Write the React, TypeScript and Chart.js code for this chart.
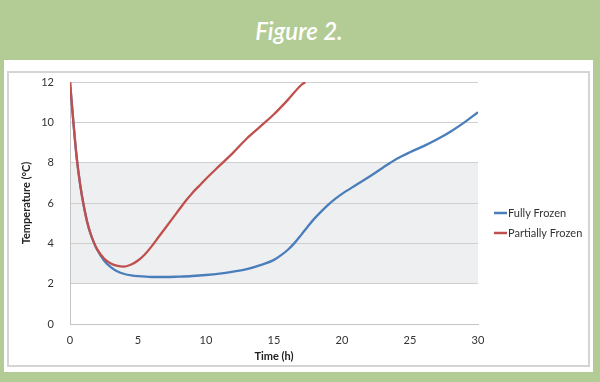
import React, { useEffect, useRef } from "react";
import { Chart, registerables } from "chart.js";

Chart.register(...registerables);

const titleText = "Figure 2.";
const xAxisTitle = "Time (h)";
const yAxisTitle = "Temperature (°C)";
const seriesNames = ["Fully Frozen", "Partially Frozen"];
const seriesColors = ["#4a7ebb", "#c0504d"];

const fullyTimes = [0, 0.25, 0.5, 0.75, 1, 1.25, 1.5, 1.75, 2, 2.5, 3, 3.5, 4, 4.5, 5, 6, 7, 8, 9, 10, 11, 12, 13, 14, 15, 15.5, 16, 16.5, 17, 17.5, 18, 18.5, 19, 19.5, 20, 21, 22, 23, 24, 25, 26, 27, 28, 29, 30];
const fullyTemps = [12, 10.0, 8.2, 6.9, 5.9, 5.1, 4.5, 4.05, 3.68, 3.15, 2.82, 2.6, 2.48, 2.41, 2.37, 2.33, 2.33, 2.35, 2.38, 2.43, 2.5, 2.6, 2.72, 2.92, 3.18, 3.4, 3.67, 4.01, 4.42, 4.85, 5.25, 5.6, 5.92, 6.2, 6.45, 6.88, 7.3, 7.75, 8.18, 8.52, 8.82, 9.16, 9.55, 10.0, 10.5];

const partialTimes = [0, 0.25, 0.5, 0.75, 1, 1.25, 1.5, 1.75, 2, 2.5, 3, 3.5, 4, 4.5, 5, 5.5, 6, 6.5, 7, 7.5, 8, 8.5, 9, 9.5, 10, 11, 12, 13, 14, 15, 16, 17, 17.3];
const partialTemps = [12, 10.0, 8.2, 6.9, 5.9, 5.1, 4.5, 4.05, 3.7, 3.25, 3.0, 2.88, 2.85, 2.95, 3.15, 3.45, 3.85, 4.3, 4.75, 5.2, 5.65, 6.1, 6.5, 6.85, 7.2, 7.85, 8.5, 9.2, 9.8, 10.4, 11.1, 11.85, 12.0];

const xTickMin = 0;
const xTickMax = 30;
const xTickStep = 5;
const yTickMin = 0;
const yTickMax = 12;
const yTickStep = 2;
const bandLow = 2;
const bandHigh = 8;

const FONT = "Lato, 'Open Sans', sans-serif";

export default function App() {
  const canvasRef = useRef<HTMLCanvasElement | null>(null);

  useEffect(() => {
    const canvas = canvasRef.current;
    if (!canvas) return;

    const bandPlugin = {
      id: "band",
      beforeDraw(chart: any) {
        const { ctx, chartArea, scales } = chart;
        const y = scales.y;
        const top = y.getPixelForValue(bandHigh);
        const bottom = y.getPixelForValue(bandLow);
        ctx.save();
        ctx.fillStyle = "#eeeff1";
        ctx.fillRect(chartArea.left, top, chartArea.right - chartArea.left, bottom - top);
        ctx.restore();
      },
    };

    const legendPlugin = {
      id: "customLegend",
      afterDraw(chart: any) {
        const { ctx, chartArea } = chart;
        const x0 = chartArea.right + 16;
        const rows = [chartArea.top + 131, chartArea.top + 151];
        ctx.save();
        chart.data.datasets.forEach((ds: any, i: number) => {
          const yy = rows[i];
          ctx.strokeStyle = ds.borderColor;
          ctx.lineWidth = 2.5;
          ctx.beginPath();
          ctx.moveTo(x0, yy);
          ctx.lineTo(x0 + 13, yy);
          ctx.stroke();
          ctx.fillStyle = "#333333";
          ctx.font = `11px ${FONT}`;
          ctx.textBaseline = "middle";
          ctx.textAlign = "left";
          ctx.fillText(ds.label, x0 + 14, yy + 0.5);
        });
        ctx.restore();
      },
    };

    const chart = new Chart(canvas, {
      type: "line",
      data: {
        datasets: [
          {
            label: seriesNames[0],
            data: fullyTimes.map((t, i) => ({ x: t, y: fullyTemps[i] })),
            borderColor: seriesColors[0],
            backgroundColor: seriesColors[0],
            borderWidth: 2.3,
            pointRadius: 0,
            cubicInterpolationMode: "monotone",
            order: 1,
          },
          {
            label: seriesNames[1],
            data: partialTimes.map((t, i) => ({ x: t, y: partialTemps[i] })),
            borderColor: seriesColors[1],
            backgroundColor: seriesColors[1],
            borderWidth: 2.3,
            pointRadius: 0,
            cubicInterpolationMode: "monotone",
            order: 0,
          },
        ],
      },
      options: {
        animation: false,
        responsive: false,
        maintainAspectRatio: false,
        layout: { padding: { left: 0, right: 110, top: 9, bottom: 0 } },
        plugins: {
          legend: { display: false },
          tooltip: { enabled: false },
          title: { display: false },
        },
        scales: {
          x: {
            type: "linear",
            min: xTickMin,
            max: xTickMax,
            afterFit: (s: any) => {
              s.height = 41;
            },
            ticks: {
              stepSize: xTickStep,
              padding: 10,
              color: "#333333",
              font: { family: FONT, size: 11 },
              maxRotation: 0,
            },
            grid: { display: false, drawTicks: false },
            border: { display: true, color: "#c4c4c4", width: 1 },
            title: {
              display: true,
              text: xAxisTitle,
              color: "#222222",
              font: { family: FONT, size: 11, weight: "bold" },
              padding: { top: 0, bottom: 2 },
            },
          },
          y: {
            type: "linear",
            min: yTickMin,
            max: yTickMax,
            afterFit: (s: any) => {
              s.width = 61;
              s.paddingTop = 6;
              s.paddingBottom = 6;
            },
            ticks: {
              stepSize: yTickStep,
              padding: 16,
              color: "#333333",
              font: { family: FONT, size: 11 },
            },
            grid: { display: true, color: "#cfcfcf", lineWidth: 1, drawTicks: false },
            border: { display: true, color: "#c4c4c4", width: 1 },
            title: {
              display: true,
              text: yAxisTitle,
              color: "#222222",
              font: { family: FONT, size: 11, weight: "bold" },
              padding: { top: 11, bottom: 0 },
            },
          },
        },
      },
      plugins: [bandPlugin, legendPlugin],
    });

    return () => chart.destroy();
  }, []);

  return (
    <div
      style={{
        position: "absolute",
        left: 0,
        top: 0,
        width: 600,
        height: 382,
        background: "#b3cc95",
        overflow: "hidden",
      }}
    >
      <div
        style={{
          position: "absolute",
          left: 0,
          top: 16,
          width: 598,
          textAlign: "center",
          color: "#ffffff",
          fontFamily: FONT,
          fontStyle: "italic",
          fontWeight: 600,
          fontSize: 24,
          lineHeight: "30px",
        }}
      >
        {titleText}
      </div>
      <div
        style={{
          position: "absolute",
          left: 4,
          top: 60,
          width: 589,
          height: 312,
          background: "#ffffff",
        }}
      />
      <div
        style={{
          position: "absolute",
          left: 7,
          top: 71,
          width: 583,
          height: 296,
          boxSizing: "border-box",
          border: "2px solid #d4d4d4",
        }}
      >
        <canvas ref={canvasRef} width={579} height={292} style={{ display: "block", width: 579, height: 292 }} />
      </div>
    </div>
  );
}
